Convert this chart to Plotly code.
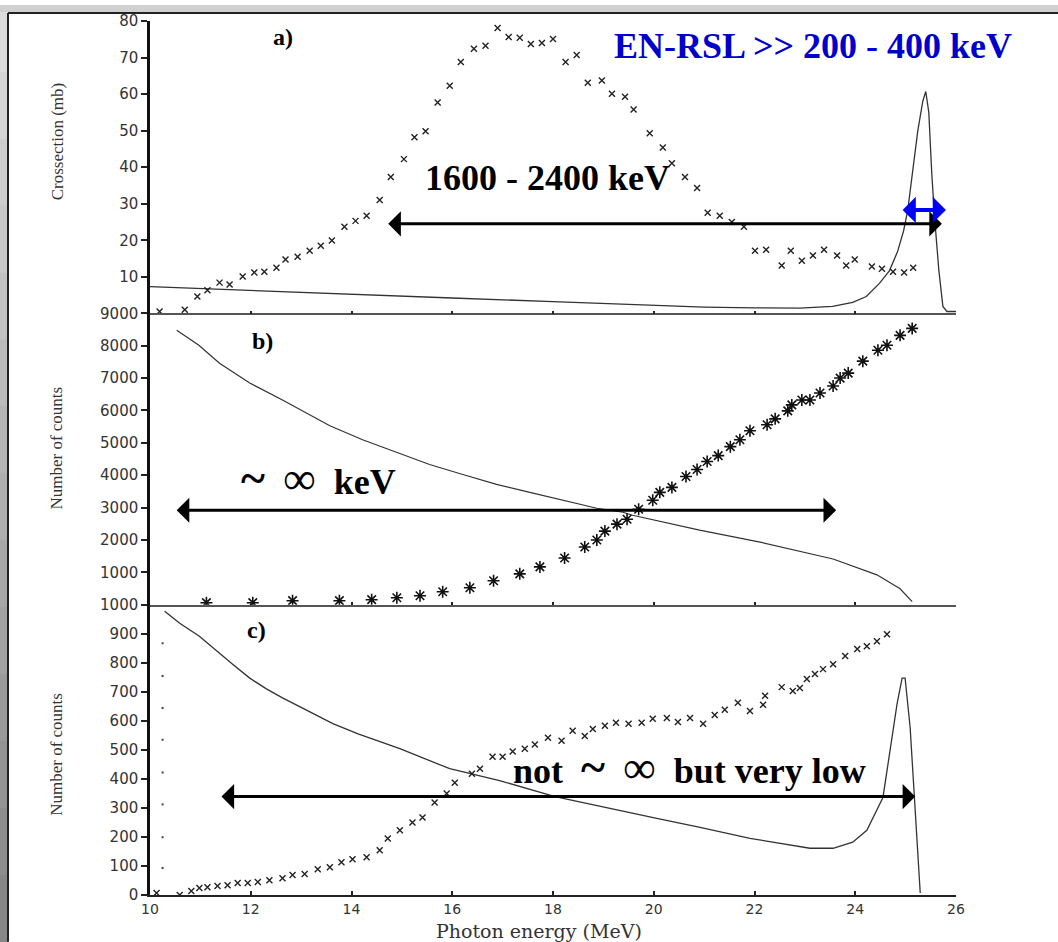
import plotly.graph_objects as go

# ---------------- data ----------------
energy_ticks = [10, 12, 14, 16, 18, 20, 22, 24, 26]
a_ticks = [10, 20, 30, 40, 50, 60, 70, 80]
b_ticks = [1000, 2000, 3000, 4000, 5000, 6000, 7000, 8000, 9000]
c_ticks = [0, 100, 200, 300, 400, 500, 600, 700, 800, 900, 1000]

# panel a) cross section (crosses)
a_cross_x = [10.19, 10.69, 10.94, 11.14, 11.38, 11.58, 11.84, 12.07, 12.27, 12.51, 12.69, 12.93,
             13.17, 13.39, 13.61, 13.86, 14.08, 14.30, 14.56, 14.78, 15.04, 15.25, 15.47, 15.71,
             15.95, 16.17, 16.43, 16.66, 16.90, 17.12, 17.34, 17.56, 17.78, 18.00, 18.25, 18.47,
             18.69, 18.97, 19.17, 19.43, 19.60, 19.92, 20.18, 20.36, 20.62, 20.86, 21.07, 21.31,
             21.55, 21.79, 22.01, 22.23, 22.54, 22.72, 22.94, 23.16, 23.38, 23.64, 23.82, 23.99,
             24.33, 24.53, 24.75, 24.97, 25.15]
a_cross_y = [0.5, 1.0, 4.6, 6.3, 8.4, 7.9, 10.1, 11.2, 11.4, 12.5, 14.7, 15.5,
             17.1, 18.5, 19.9, 23.7, 25.3, 26.7, 31.0, 37.3, 42.2, 48.2, 49.8, 57.7,
             62.3, 68.8, 72.4, 73.2, 78.1, 75.6, 75.4, 73.7, 74.0, 75.1, 68.8, 70.7,
             63.1, 63.7, 60.1, 59.3, 55.8, 49.3, 45.4, 41.1, 37.3, 34.3, 27.5, 26.7,
             25.0, 23.7, 17.1, 17.4, 13.1, 17.1, 14.4, 15.8, 17.4, 15.8, 13.1, 14.7,
             12.8, 12.2, 11.4, 11.2, 12.5]

# panel a) photon spectrum (line)
a_line_x = [10, 12, 14, 16, 18, 20, 21, 22, 22.9, 23.55, 23.95, 24.22, 24.48, 24.68, 24.84,
            24.96, 25.04, 25.14, 25.24, 25.34, 25.40, 25.46, 25.52, 25.58, 25.66, 25.74, 25.82, 26.0]
a_line_y = [7.3, 6.2, 5.2, 4.2, 3.2, 2.2, 1.7, 1.5, 1.4, 1.9, 3.0, 4.6, 8.2, 11.7, 16.9,
            22.6, 28.0, 38.9, 49.8, 58.0, 60.7, 55.0, 38.0, 25.3, 11.7, 1.9, 0.5, 0.5]

# panel b) counts (asterisks)
b_star_x = [11.12, 12.04, 12.83, 13.76, 14.40, 14.90, 15.36, 15.81, 16.35, 16.82, 17.34, 17.74,
            18.23, 18.63, 18.87, 19.03, 19.27, 19.47, 19.70, 19.98, 20.12, 20.36, 20.64, 20.86,
            21.06, 21.28, 21.52, 21.71, 21.91, 22.25, 22.41, 22.66, 22.74, 22.94, 23.10, 23.30,
            23.56, 23.70, 23.86, 24.15, 24.45, 24.63, 24.89, 25.13]
b_star_y = [61, 61, 123, 123, 154, 215, 276, 399, 522, 737, 952, 1167,
            1443, 1781, 1996, 2272, 2487, 2640, 2947, 3224, 3469, 3623, 3960, 4175,
            4421, 4605, 4881, 5096, 5373, 5557, 5741, 5987, 6171, 6324, 6324, 6539,
            6754, 7000, 7153, 7522, 7859, 8013, 8320, 8535]

# panel b) spectrum (line)
b_line_x = [10.53, 10.97, 11.38, 11.98, 12.63, 13.37, 13.57, 14.22, 14.90, 15.55, 16.21, 16.88,
            17.54, 18.19, 18.87, 19.39, 19.58, 20.91, 22.11, 23.56, 24.43, 24.89, 25.13]
b_line_y = [8474, 8013, 7461, 6847, 6325, 5711, 5526, 5096, 4697, 4329, 4022, 3715,
            3469, 3224, 2978, 2855, 2763, 2303, 1934, 1412, 921, 491, 92]

# panel c) counts (crosses)
c_cross_x = [10.13, 10.59, 10.82, 10.98, 11.14, 11.34, 11.54, 11.74, 11.94, 12.14, 12.37, 12.63,
             12.83, 13.07, 13.33, 13.57, 13.80, 14.02, 14.30, 14.56, 14.72, 14.96, 15.21, 15.41,
             15.65, 15.89, 16.05, 16.39, 16.55, 16.80, 17.00, 17.20, 17.44, 17.64, 17.90, 18.17,
             18.39, 18.63, 18.79, 19.03, 19.25, 19.50, 19.76, 19.98, 20.26, 20.48, 20.72, 20.98,
             21.21, 21.41, 21.67, 21.91, 22.17, 22.21, 22.54, 22.76, 22.90, 23.04, 23.20, 23.36,
             23.56, 23.80, 24.04, 24.23, 24.43, 24.63]
c_cross_y = [7, 0, 14, 24, 27, 31, 34, 41, 41, 45, 51, 58,
             69, 72, 89, 96, 113, 123, 130, 154, 195, 223, 250, 267,
             319, 350, 387, 418, 435, 476, 476, 494, 504, 518, 542, 531,
             566, 548, 572, 583, 593, 590, 593, 607, 610, 596, 610, 590,
             620, 638, 662, 634, 655, 686, 716, 703, 713, 744, 761, 778,
             795, 823, 847, 857, 874, 898]

# panel c) spectrum (line)
c_line_x = [10.29, 10.59, 10.98, 11.32, 11.64, 11.98, 12.31, 12.63, 12.97, 13.63, 14.13, 14.96,
            15.95, 16.94, 18.04, 18.93, 20.06, 20.92, 21.91, 23.10, 23.56, 23.95, 24.23, 24.55,
            24.69, 24.83, 24.93, 24.99, 25.09, 25.19, 25.29]
c_line_y = [977, 936, 891, 840, 795, 747, 710, 679, 648, 590, 555, 504,
            435, 394, 339, 305, 264, 233, 195, 161, 161, 182, 223, 336,
            497, 658, 747, 747, 576, 302, 7]

# panel c) stray dots near the left axis
c_dot_x = [10.25, 10.25, 10.25, 10.25, 10.25, 10.25, 10.25, 10.25]
c_dot_y = [93, 199, 312, 422, 535, 644, 754, 867]

# range arrows: (x_start, x_end, y)
arrow_a = (14.7, 25.72, 24.5)
arrow_a_blue = (24.91, 25.80, 28.3)
arrow_b = (10.5, 23.62, 2917)
arrow_c = (11.39, 25.19, 339)

# ---------------- layout helpers ----------------
W, H = 1058, 942
ML, MR, MT, MB = 150, 102, 16, 47
PW, PH = W - ML - MR, H - MT - MB


def px(x):
    return (x - ML) / PW


def py(y):
    return (H - MB - y) / PH


dom_a = [py(310), 1.0]
dom_b = [py(603), py(310)]
dom_c = [0.0, py(603)]

TICKFONT = dict(family="DejaVu Sans", size=15, color="#333333")
SERIF = "Liberation Serif"

fig = go.Figure()

cross_marker = dict(symbol="x-thin", size=6, color="#222222", line=dict(width=1.4, color="#222222"))

fig.add_trace(go.Scatter(x=a_line_x, y=a_line_y, mode="lines", xaxis="x", yaxis="y",
                         line=dict(color="#333333", width=1.3), showlegend=False))
fig.add_trace(go.Scatter(x=a_cross_x, y=a_cross_y, mode="markers", xaxis="x", yaxis="y",
                         marker=cross_marker, showlegend=False))

fig.add_trace(go.Scatter(x=b_line_x, y=b_line_y, mode="lines", xaxis="x2", yaxis="y2",
                         line=dict(color="#333333", width=1.2), showlegend=False))
fig.add_trace(go.Scatter(x=b_star_x, y=b_star_y, mode="markers", xaxis="x2", yaxis="y2",
                         marker=dict(symbol="asterisk", size=10, color="#111111",
                                     line=dict(width=1.6, color="#111111")), showlegend=False))

fig.add_trace(go.Scatter(x=c_line_x, y=c_line_y, mode="lines", xaxis="x3", yaxis="y3",
                         line=dict(color="#333333", width=1.3), showlegend=False))
fig.add_trace(go.Scatter(x=c_cross_x, y=c_cross_y, mode="markers", xaxis="x3", yaxis="y3",
                         marker=cross_marker, showlegend=False))
fig.add_trace(go.Scatter(x=c_dot_x, y=c_dot_y, mode="markers", xaxis="x3", yaxis="y3",
                         marker=dict(symbol="square", size=2, color="#444444"), showlegend=False))


def xax(anchor, show_labels):
    return dict(domain=[0, 1], range=[10, 26], anchor=anchor, tickvals=energy_ticks,
                showticklabels=show_labels, ticks="inside", ticklen=4 if show_labels else 3,
                tickcolor="#222222", tickwidth=1.5, showline=True,
                linecolor="#222222" if show_labels else "#555555",
                linewidth=2 if show_labels else 1.5, showgrid=False, zeroline=False,
                tickfont=dict(family="DejaVu Sans", size=14, color="#333333"), fixedrange=True)


def yax(anchor, dom, rng, tv):
    return dict(domain=dom, range=rng, anchor=anchor, tickvals=tv, ticks="outside", ticklen=6,
                tickcolor="#222222", tickwidth=1.5, showline=True, linecolor="#111111",
                linewidth=2.5, showgrid=False, zeroline=False, tickfont=TICKFONT, fixedrange=True)


layout = dict(
    width=W, height=H, margin=dict(l=ML, r=MR, t=MT, b=MB, pad=0),
    paper_bgcolor="white", plot_bgcolor="rgba(0,0,0,0)", showlegend=False,
    xaxis=xax("y", False), yaxis=yax("x", dom_a, [0, 80], a_ticks),
    xaxis2=xax("y2", False), yaxis2=yax("x2", dom_b, [0, 9000], b_ticks),
    xaxis3=xax("y3", True), yaxis3=yax("x3", dom_c, [0, 1000], c_ticks),
)
fig.update_layout(**layout)

ann = []


def arrow(xr, yr, spec, color, width, size):
    x0, x1, yv = spec
    ann.append(dict(x=x1, y=yv, ax=x0, ay=yv, xref=xr, yref=yr, axref=xr, ayref=yr, text="",
                    showarrow=True, arrowside="end+start", arrowhead=1, arrowsize=size,
                    arrowwidth=width, arrowcolor=color, standoff=0, startstandoff=0))


arrow("x", "y", arrow_a, "black", 3, 1.4)
arrow("x", "y", arrow_a_blue, "#0000ff", 4, 1.1)
arrow("x2", "y2", arrow_b, "black", 3, 1.4)
arrow("x3", "y3", arrow_c, "black", 3, 1.4)

big = "<span style='font-size:46px'>"
sp = "\u00a0"


def label(x, y, xr, yr, text, size, color="black"):
    ann.append(dict(x=x, y=y, xref=xr, yref=yr, text=text, showarrow=False, xanchor="center",
                    yanchor="middle", font=dict(family=SERIF, size=size, color=color)))


label(23.16, 73.2, "x", "y", "<b>EN-RSL &gt;&gt; 200 - 400 keV</b>", 36, "#0000cc")
label(17.89, 37.0, "x", "y", "<b>1600 - 2400 keV</b>", 36)
label(13.34, 3900, "x2", "y2",
      "<b>" + big + "~</span></b>" + sp + " " + big + "∞</span>" + sp + " <b>keV</b>", 36)
label(20.71, 440, "x3", "y3",
      "<b>not" + sp + " " + big + "~</span></b>" + sp + " " + big + "∞</span>" + sp +
      " <b>but very low</b>", 36)
label(12.64, 75.5, "x", "y", "<b>a)</b>", 24)
label(12.23, 8150, "x2", "y2", "<b>b)</b>", 24)
label(12.12, 912, "x3", "y3", "<b>c)</b>", 24)

# axis titles
for ytxt, ypix in [("Crossection (mb)", 137), ("Number of counts", 446), ("Number of counts", 754)]:
    ann.append(dict(x=px(57), y=py(ypix), xref="paper", yref="paper", text=ytxt, textangle=-90,
                    showarrow=False, xanchor="center", yanchor="middle",
                    font=dict(family=SERIF, size=17, color="#333333")))
ann.append(dict(x=px(539), y=py(931), xref="paper", yref="paper", text="Photon energy (MeV)",
                showarrow=False, xanchor="center", yanchor="middle",
                font=dict(family="DejaVu Serif", size=19, color="#333333")))

fig.update_layout(annotations=ann)

# frame: grey border strips and dark frame lines
shapes = []
n = 14
for i in range(n):
    g = int(220 - (220 - 135) * i / (n - 1))
    shapes.append(dict(type="rect", xref="paper", yref="paper", layer="above",
                       x0=px(0), x1=px(8), y0=py(H * i / n), y1=py(H * (i + 1) / n + 1),
                       fillcolor=f"rgb({g},{g},{g})", line=dict(width=0)))
shapes.append(dict(type="rect", xref="paper", yref="paper", layer="above",
                   x0=px(0), x1=px(W), y0=py(0), y1=py(7),
                   fillcolor="rgb(208,208,208)", line=dict(width=0)))
shapes.append(dict(type="line", xref="paper", yref="paper", layer="above",
                   x0=px(8), x1=px(8), y0=py(8), y1=py(H), line=dict(color="#222222", width=2)))
shapes.append(dict(type="line", xref="paper", yref="paper", layer="above",
                   x0=px(8), x1=px(W), y0=py(8), y1=py(8), line=dict(color="#222222", width=2)))
fig.update_layout(shapes=shapes)

fig.write_html("out.html", config={"displayModeBar": False})
